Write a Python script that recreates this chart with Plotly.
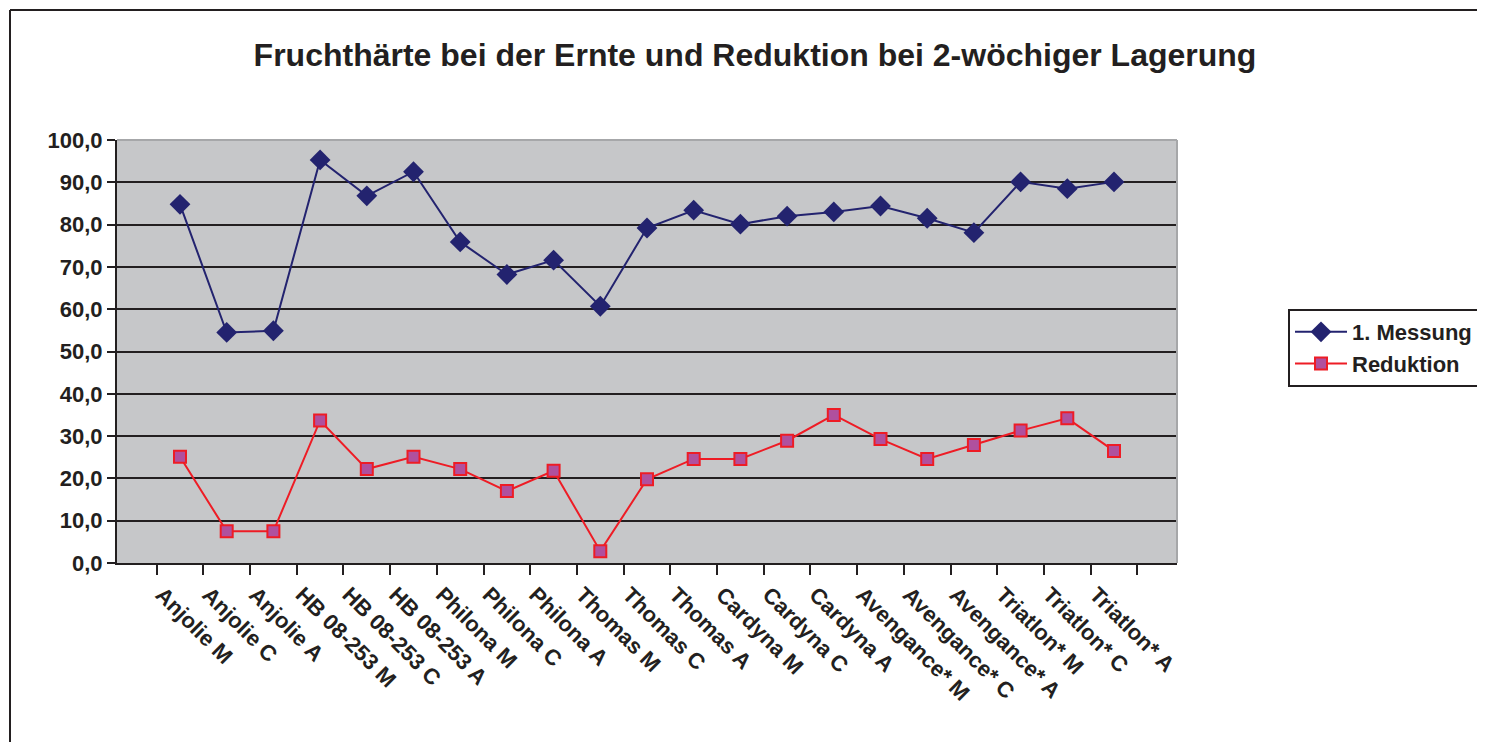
import plotly.graph_objects as go

categories = ["Anjolie M", "Anjolie C", "Anjolie A",
              "HB 08-253 M", "HB 08-253 C", "HB 08-253 A",
              "Philona M", "Philona C", "Philona A",
              "Thomas M", "Thomas C", "Thomas A",
              "Cardyna M", "Cardyna C", "Cardyna A",
              "Avengance* M", "Avengance* C", "Avengance* A",
              "Triatlon* M", "Triatlon* C", "Triatlon* A"]

messung = [84.8, 54.5, 54.9, 95.3, 86.8, 92.5, 75.9, 68.2, 71.6, 60.7,
           79.2, 83.4, 80.1, 82.0, 83.0, 84.4, 81.5, 78.1, 90.1, 88.5, 90.1]

reduktion = [25.1, 7.5, 7.5, 33.7, 22.2, 25.1, 22.2, 17.0, 21.8, 2.8,
             19.8, 24.6, 24.6, 28.9, 35.0, 29.3, 24.6, 27.9, 31.3, 34.2, 26.5]

y_ticks = [0, 10, 20, 30, 40, 50, 60, 70, 80, 90, 100]
y_ticktext = ["0,0", "10,0", "20,0", "30,0", "40,0", "50,0", "60,0",
              "70,0", "80,0", "90,0", "100,0"]

OFF = 8  # page body margin offset
W, H = 1485, 742
L, R, T, B = 117 - OFF, 1177 - OFF, 140 - OFF, 563 - OFF

fig = go.Figure()
fig.add_trace(go.Scatter(
    x=categories, y=messung, name="<b>1. Messung</b>", mode="lines+markers",
    line=dict(color="#23236F", width=2),
    marker=dict(symbol="diamond", size=16, color="#23236F",
                line=dict(color="#23236F", width=0))))
fig.add_trace(go.Scatter(
    x=categories, y=reduktion, name="<b>Reduktion</b>", mode="lines+markers",
    line=dict(color="#EE1C25", width=2),
    marker=dict(symbol="square", size=12, color="#B0509E",
                line=dict(color="#EE1C25", width=2))))

font_main = "Liberation Sans, Arial, sans-serif"

def px_x(px):
    return (px - OFF - L) / (R - L)

def px_y(py):
    return (B - (py - OFF)) / (B - T)

fig.update_layout(
    width=W, height=H,
    margin=dict(l=L, r=W - R, t=T, b=H - B, autoexpand=False),
    paper_bgcolor="white",
    plot_bgcolor="#C6C7C9",
    font=dict(family=font_main, color="#231F20"),
    title=dict(text="<b>Fruchthärte bei der Ernte und Reduktion bei 2-wöchiger Lagerung</b>",
               x=(755 - OFF) / W, xanchor="center", y=1 - (55 - OFF) / H, yanchor="middle",
               font=dict(size=32, family=font_main, color="#231F20")),
    legend=dict(x=px_x(1288), xanchor="left", y=px_y(309), yanchor="top",
                bordercolor="#231F20", borderwidth=2, bgcolor="white",
                font=dict(size=22, family=font_main, color="#231F20"),
                itemwidth=52, tracegroupgap=4),
    showlegend=True,
)

fig.update_xaxes(
    type="category", tickson="boundaries", ticks="outside", ticklen=10,
    tickwidth=2, tickcolor="#231F20", tickangle=45,
    ticklabelshift=-18, ticklabelstandoff=8,
    showline=True, linecolor="#231F20", linewidth=2,
    showgrid=False, automargin=False,
    tickfont=dict(size=22, family=font_main, color="#231F20"),
    ticktext=["<b>" + c + "</b>" for c in categories], tickvals=categories,
)
fig.update_yaxes(
    range=[0, 100], tickvals=y_ticks,
    ticktext=["<b>" + t + "</b>" for t in y_ticktext],
    ticks="outside", ticklen=8, tickwidth=2, tickcolor="#231F20",
    showline=True, linecolor="#231F20", linewidth=2,
    showgrid=True, gridcolor="#231F20", gridwidth=2,
    zeroline=False, automargin=False,
    tickfont=dict(size=22, family=font_main, color="#231F20"),
)

shapes = [
    dict(type="line", xref="paper", yref="paper", x0=0, x1=1, y0=1, y1=1,
         line=dict(color="#A6A7A9", width=2), layer="above"),
    dict(type="line", xref="paper", yref="paper", x0=1, x1=1, y0=0, y1=1,
         line=dict(color="#A6A7A9", width=2), layer="above"),
    # outer chart border (top and left edges visible)
    dict(type="line", xref="paper", yref="paper",
         x0=px_x(10), x1=px_x(1520), y0=px_y(10), y1=px_y(10),
         line=dict(color="#231F20", width=2)),
    dict(type="line", xref="paper", yref="paper",
         x0=px_x(10), x1=px_x(10), y0=px_y(10), y1=px_y(800),
         line=dict(color="#231F20", width=2)),
]
fig.update_layout(shapes=shapes)

fig.write_html("out.html")
